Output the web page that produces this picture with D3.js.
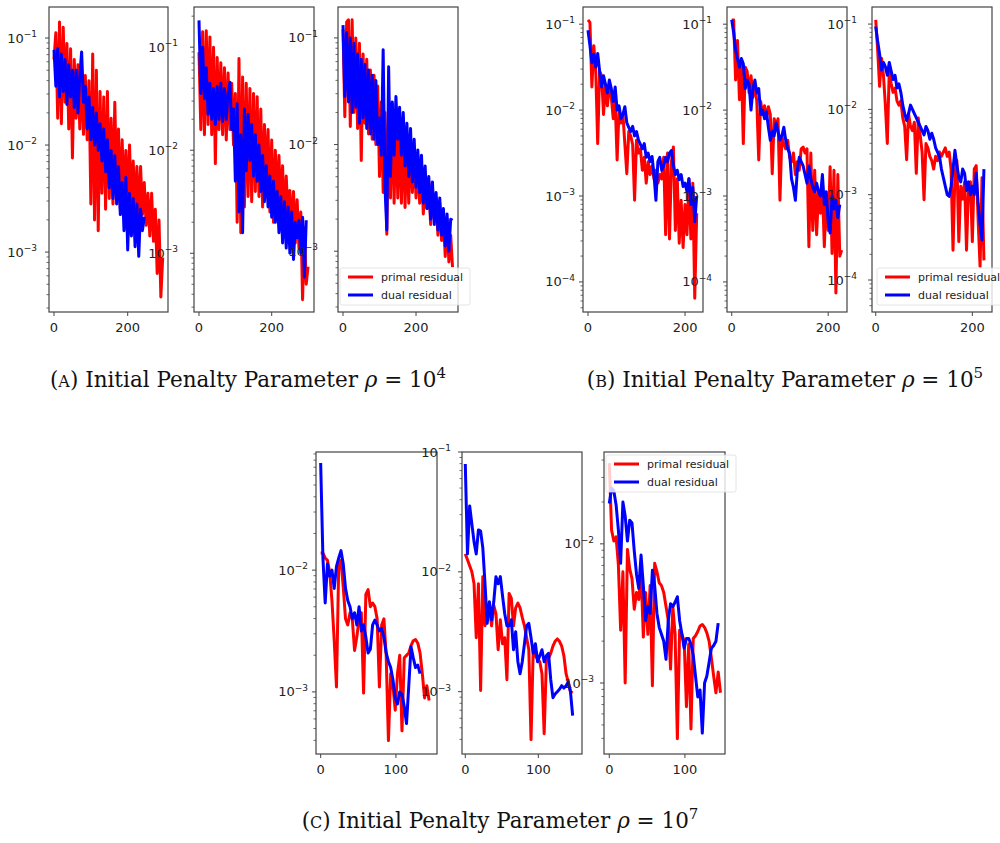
<!DOCTYPE html>
<html>
<head>
<meta charset="utf-8">
<script src="https://cdn.jsdelivr.net/npm/d3@7"></script>
<style>
  body { margin: 0; background: #fff; }
  svg { display: block; }
</style>
</head>
<body>
<svg id="chart" width="1000" height="843"></svg>
<script>
// residuals, stored as log10 values; x = index * step
const stepA = 5, stepB = 4, stepC = 3;

const a1Primal = [-1.20,-0.95,-1.75,-0.85,-1.80,-0.90,-1.60,-1.05,-1.85,-1.10,-2.12,-1.20,-1.75,-1.25,-1.85,-1.30,-1.90,-1.35,-1.95,-1.40,
  -2.55,-1.15,-2.70,-1.30,-2.80,-1.50,-2.45,-1.55,-2.60,-1.50,-2.50,-1.75,-2.55,-1.60,-2.40,-1.85,-2.60,-1.95,-2.55,-2.05,
  -2.55,-2.00,-2.60,-2.15,-2.65,-2.20,-2.70,-2.20,-2.65,-2.35,-2.75,-2.45,-2.85,-2.45,-2.90,-2.60,-3.20,-2.70,-3.42,-3.05];
const a1Dual = [-1.11,-1.45,-1.10,-1.55,-1.15,-1.50,-1.20,-1.62,-1.25,-1.55,-1.30,-1.65,-1.30,-1.70,-1.35,-1.13,-1.60,-1.45,-1.85,-1.55,
  -1.95,-1.65,-2.00,-1.70,-2.05,-1.80,-2.15,-1.85,-2.25,-1.95,-2.40,-2.05,-2.50,-2.10,-2.55,-2.20,-2.65,-2.35,-2.80,-2.30,
  -2.98,-2.45,-2.85,-2.50,-2.95,-2.55,-3.04,-2.60,-2.80,-2.67];

const a2Primal = [-1.05,-1.80,-0.85,-1.85,-0.84,-1.75,-0.90,-1.85,-1.00,-2.13,-1.10,-1.80,-1.15,-1.85,-1.20,-1.90,-1.25,-1.80,-1.35,-1.95,
  -1.45,-2.70,-1.11,-2.80,-1.29,-2.55,-1.35,-2.45,-1.40,-2.50,-1.45,-2.40,-1.48,-2.45,-1.60,-2.55,-1.75,-2.35,-1.80,-2.60,
  -1.90,-2.70,-2.00,-2.55,-2.05,-2.60,-2.15,-2.75,-2.25,-2.65,-2.39,-2.80,-2.40,-2.90,-2.48,-2.95,-2.60,-3.45,-2.75,-3.30,-3.13];
const a2Dual = [-0.74,-1.45,-1.00,-1.50,-1.20,-1.65,-1.35,-1.70,-1.40,-1.75,-1.38,-1.70,-1.35,-1.72,-1.40,-1.70,-1.45,-1.34,-1.80,-1.60,
  -2.30,-1.55,-2.60,-1.85,-2.80,-1.60,-2.20,-1.65,-2.10,-1.75,-2.25,-1.85,-2.30,-1.95,-2.40,-2.05,-2.50,-2.15,-2.55,-2.25,
  -2.65,-2.30,-2.70,-2.40,-2.80,-2.45,-2.90,-2.50,-2.95,-2.55,-3.00,-2.60,-3.06,-2.70,-2.85,-2.68,-3.00,-2.65,-3.23,-2.68];

const a3Primal = [-0.92,-1.74,-0.85,-0.83,-1.83,-0.83,-1.70,-1.00,-1.85,-1.05,-2.15,-1.15,-1.80,-1.20,-1.90,-1.30,-1.95,-1.35,-2.00,-1.45,
  -2.30,-1.60,-2.45,-1.70,-2.84,-1.65,-2.50,-1.62,-2.55,-1.70,-2.50,-1.80,-2.55,-1.75,-2.59,-1.90,-2.55,-1.95,-2.45,-2.05,
  -2.50,-2.10,-2.55,-2.20,-2.65,-2.30,-2.60,-2.35,-2.75,-2.40,-2.70,-2.50,-2.85,-2.55,-2.90,-2.65,-3.05,-2.70,-3.10,-2.85,-3.15];
const a3Dual = [-0.88,-1.55,-0.95,-1.60,-1.00,-1.70,-1.05,-1.65,-1.15,-1.80,-1.20,-1.75,-1.25,-1.85,-1.30,-1.90,-1.35,-1.95,-1.40,-2.00,
  -1.75,-2.10,-1.11,-2.40,-2.80,-1.27,-2.30,-1.60,-2.10,-1.55,-1.95,-1.65,-2.10,-1.70,-2.20,-1.80,-2.30,-1.85,-2.35,-1.95,
  -2.40,-2.05,-2.45,-2.10,-2.55,-2.20,-2.60,-2.30,-2.70,-2.35,-2.75,-2.45,-2.80,-2.50,-2.85,-2.60,-2.95,-2.65,-3.00,-2.70,-2.71];

const b1Primal = [-0.95,-0.98,-1.73,-1.25,-1.55,-2.39,-1.55,-1.60,-2.05,-1.70,-1.95,-1.72,-1.85,-2.10,-1.90,-2.58,-2.00,-2.15,-2.05,-2.40,
  -2.74,-2.25,-2.30,-2.40,-3.05,-2.35,-2.50,-2.45,-2.70,-2.55,-2.85,-2.60,-2.75,-2.65,-2.80,-2.70,-2.85,-2.75,-2.80,-2.55,
  -3.45,-2.50,-3.50,-2.60,-2.43,-3.40,-2.80,-3.55,-3.05,-3.60,-3.10,-3.45,-2.80,-3.50,-2.85,-4.19,-3.20];
const b1Dual = [-1.07,-1.25,-1.45,-1.35,-1.50,-1.34,-1.55,-1.73,-1.60,-1.70,-1.80,-1.65,-1.75,-1.90,-1.73,-2.00,-1.95,-2.10,-2.05,-1.96,
  -2.15,-2.20,-2.25,-2.19,-2.30,-2.25,-2.35,-2.40,-2.45,-2.39,-2.55,-2.50,-2.60,-2.54,-2.75,-3.05,-2.60,-2.55,-2.70,-2.65,
  -2.55,-2.60,-2.50,-2.47,-2.65,-2.75,-2.70,-2.81,-2.75,-2.89,-2.85,-2.95,-2.80,-3.10,-2.90,-3.30,-3.00];

const b2Primal = [-0.95,-0.95,-1.65,-1.19,-1.88,-1.45,-2.39,-1.50,-1.55,-1.80,-1.60,-1.85,-1.70,-1.90,-2.58,-1.90,-2.05,-1.95,-2.10,-1.96,
  -2.05,-2.74,-2.10,-2.20,-2.10,-3.05,-2.30,-2.40,-2.45,-2.35,-2.55,-2.60,-2.50,-2.75,-2.60,-2.70,-2.45,-2.43,-2.50,-2.45,
  -3.59,-2.50,-3.40,-2.70,-3.45,-2.95,-3.20,-2.90,-3.59,-3.00,-3.40,-2.66,-3.67,-2.70,-4.13,-2.75,-3.70,-3.63];
const b2Dual = [-0.95,-1.10,-1.30,-1.40,-1.50,-1.40,-1.46,-1.75,-1.65,-1.70,-2.00,-1.75,-1.65,-1.80,-1.75,-2.05,-2.00,-2.10,-2.02,-2.20,
  -2.35,-2.25,-2.30,-2.15,-2.25,-2.35,-2.30,-2.20,-2.35,-2.45,-2.50,-2.80,-2.90,-3.05,-2.70,-2.55,-2.60,-2.65,-2.75,-2.85,
  -2.65,-2.80,-2.90,-2.95,-2.85,-2.95,-3.00,-2.75,-3.10,-2.95,-3.30,-3.43,-3.00,-3.15,-3.05,-3.25,-3.10];

const b3Primal = [-0.95,-1.30,-1.73,-1.40,-1.60,-1.95,-2.40,-1.55,-1.70,-1.80,-1.75,-1.90,-1.95,-1.90,-2.10,-2.20,-2.59,-2.05,-2.20,-2.25,
  -2.15,-2.75,-2.10,-2.30,-2.50,-3.06,-2.40,-2.45,-2.55,-2.60,-2.70,-2.55,-2.60,-2.50,-2.55,-2.50,-2.45,-2.55,-2.50,-2.70,
  -3.65,-2.75,-2.60,-3.55,-2.90,-3.05,-2.85,-3.65,-2.90,-2.85,-3.55,-2.70,-2.66,-3.30,-3.84,-2.80,-3.77];
const b3Dual = [-1.03,-1.20,-1.35,-1.54,-1.45,-1.50,-1.60,-1.45,-1.55,-1.65,-1.60,-1.75,-1.70,-1.80,-1.95,-2.05,-2.13,-2.05,-1.95,-2.00,
  -2.05,-2.10,-2.15,-2.20,-2.25,-2.30,-2.20,-2.25,-2.35,-2.28,-2.35,-2.45,-2.50,-2.55,-2.70,-2.80,-2.90,-3.00,-3.02,-2.90,
  -2.70,-2.48,-2.65,-2.80,-2.85,-2.70,-2.75,-2.95,-2.85,-3.00,-2.90,-3.00,-2.75,-3.10,-3.35,-3.53,-2.70];

const c1Primal = [-1.86,-1.86,-1.90,-1.92,-2.02,-2.25,-2.58,-2.96,-1.95,-1.92,-2.14,-2.40,-2.45,-2.35,-2.40,-2.66,-2.55,-2.40,-2.35,-3.01,
  -2.20,-2.16,-2.30,-2.27,-2.30,-2.40,-2.96,-2.45,-2.40,-2.70,-3.40,-2.85,-2.95,-3.15,-2.85,-2.70,-3.32,-2.72,-2.70,-2.68,
  -2.62,-2.58,-2.57,-2.60,-2.68,-2.85,-3.05,-2.95,-3.07];
const c1Dual = [-1.12,-1.90,-2.27,-1.95,-2.05,-2.00,-2.15,-1.97,-1.90,-1.84,-1.95,-2.15,-2.25,-2.30,-2.40,-2.35,-2.45,-2.30,-2.50,-2.45,
  -2.55,-2.68,-2.65,-2.45,-2.41,-2.45,-2.50,-2.48,-2.55,-2.68,-2.75,-2.80,-2.90,-3.05,-3.10,-3.00,-3.02,-3.12,-3.26,-2.95,
  -2.63,-2.72,-2.80,-2.78,-2.85];

const c2Primal = [-1.85,-1.90,-1.95,-2.00,-2.10,-2.55,-2.10,-2.99,-2.04,-2.45,-2.35,-2.30,-2.45,-2.28,-2.35,-2.65,-2.40,-2.60,-2.55,-2.90,
  -2.18,-2.22,-2.45,-2.30,-2.26,-2.30,-2.38,-2.45,-2.55,-2.65,-3.40,-2.65,-2.70,-2.73,-2.75,-2.85,-3.35,-2.75,-2.72,-2.68,
  -2.62,-2.58,-2.56,-2.58,-2.62,-2.70,-2.85,-2.92,-3.00,-3.01];
const c2Dual = [-1.10,-1.85,-1.45,-1.60,-1.75,-1.85,-1.65,-1.66,-1.80,-2.10,-2.43,-2.25,-2.40,-2.25,-2.04,-2.10,-2.04,-2.20,-2.35,-2.45,
  -2.45,-2.40,-2.65,-2.50,-2.75,-2.85,-2.75,-2.60,-2.45,-2.43,-2.55,-2.68,-2.60,-2.75,-2.70,-2.65,-2.75,-2.70,-2.68,-2.90,
  -3.05,-3.02,-3.00,-2.98,-2.95,-2.97,-2.95,-2.92,-3.00,-3.20];

const c3Primal = [-1.42,-1.90,-1.98,-1.95,-2.15,-2.62,-2.20,-3.00,-2.04,-2.18,-2.25,-2.47,-2.35,-2.40,-2.20,-2.67,-2.35,-2.65,-2.30,-3.02,
  -2.14,-2.20,-2.28,-2.30,-2.35,-2.45,-2.55,-2.90,-2.45,-2.65,-3.40,-2.62,-2.65,-2.70,-3.17,-2.72,-3.33,-2.68,-2.66,-2.63,
  -2.59,-2.58,-2.60,-2.64,-2.70,-2.82,-2.95,-3.07,-2.92,-3.07];
const c3Dual = [-1.71,-1.60,-1.62,-1.72,-1.90,-2.14,-1.70,-1.80,-1.98,-1.83,-1.85,-2.05,-2.22,-2.32,-2.08,-2.30,-2.55,-2.45,-2.50,-2.19,
  -2.30,-2.50,-2.60,-2.65,-2.70,-2.83,-2.55,-2.43,-2.45,-2.42,-2.38,-2.55,-2.65,-2.75,-2.68,-2.68,-2.72,-2.80,-2.95,-3.10,
  -3.05,-3.36,-3.00,-2.95,-2.85,-2.75,-2.73,-2.70,-2.57];

const captionLetters = ["A", "B", "C"];
const rhoExponents = ["4", "5", "7"];
const seriesNames = ["primal residual", "dual residual"];
const xTicksAB = [0, 200];
const xTicksC = [0, 100];

// layout of each sub-axes (pixel box, axis limits, label gap)
const panels = [
  { box: [49, 168, 7, 312], xDom: [-13.6, 309.4], yDom: [-0.71, -3.56], xTicks: xTicksAB, gap: 12, step: stepA, primal: a1Primal, dual: a1Dual },
  { box: [194, 314, 7, 312], xDom: [-13.75, 316.4], yDom: [-0.61, -3.57], xTicks: xTicksAB, gap: 16, step: stepA, primal: a2Primal, dual: a2Dual },
  { box: [338, 458, 7, 312], xDom: [-13.7, 315], yDom: [-0.71, -3.57], xTicks: xTicksAB, gap: 20, step: stepA, primal: a3Primal, dual: a3Dual, legend: [340, 268] },
  { box: [583, 703, 7, 312], xDom: [-10.3, 237], yDom: [-0.80, -4.35], xTicks: xTicksAB, gap: 8, step: stepB, primal: b1Primal, dual: b1Dual },
  { box: [727, 847, 7, 312], xDom: [-9.8, 239], yDom: [-0.80, -4.35], xTicks: xTicksAB, gap: 15, step: stepB, primal: b2Primal, dual: b2Dual },
  { box: [872, 992, 7, 312], xDom: [-7.7, 240.7], yDom: [-0.80, -4.375], xTicks: xTicksAB, gap: 15, step: stepB, primal: b3Primal, dual: b3Dual, legend: [877, 268] },
  { box: [316, 437, 452, 754], xDom: [-6.2, 154.5], yDom: [-1.03, -3.51], xTicks: xTicksC, gap: 8, step: stepC, primal: c1Primal, dual: c1Dual },
  { box: [462, 582, 452, 754], xDom: [-4.5, 159.8], yDom: [-1.0, -3.52], xTicks: xTicksC, gap: 11, step: stepC, primal: c2Primal, dual: c2Dual },
  { box: [604, 725, 452, 754], xDom: [-7, 153], yDom: [-1.34, -3.51], xTicks: xTicksC, gap: 10, step: stepC, primal: c3Primal, dual: c3Dual, legend: [606, 455] }
];

const colors = ["#ff0000", "#0000ff"];
const svg = d3.select("#chart");

panels.forEach((p, i) => {
  const [x0, x1, y0, y1] = p.box;
  const x = d3.scaleLinear().domain(p.xDom).range([x0, x1]);
  const y = d3.scaleLog().domain([10 ** p.yDom[0], 10 ** p.yDom[1]]).range([y0, y1]);
  const g = svg.append("g");

  // clip to axes area
  g.append("clipPath").attr("id", "clip" + i)
    .append("rect").attr("x", x0).attr("y", y0).attr("width", x1 - x0).attr("height", y1 - y0);

  const line = d3.line()
    .x((d, k) => x(k * p.step))
    .y((d) => y(10 ** d));

  [p.primal, p.dual].forEach((s, k) => {
    g.append("path")
      .attr("d", line(s))
      .attr("clip-path", `url(#clip${i})`)
      .attr("fill", "none")
      .attr("stroke", colors[k])
      .attr("stroke-width", 3)
      .attr("stroke-linejoin", "round");
  });

  // spines
  g.append("rect")
    .attr("x", x0).attr("y", y0).attr("width", x1 - x0).attr("height", y1 - y0)
    .attr("fill", "none").attr("stroke", "#444").attr("stroke-width", 1.2);

  // x axis ticks
  p.xTicks.forEach((t) => {
    g.append("line").attr("x1", x(t)).attr("x2", x(t)).attr("y1", y1).attr("y2", y1 + 4)
      .attr("stroke", "#444");
    g.append("text").attr("x", x(t)).attr("y", y1 + 20)
      .attr("text-anchor", "middle")
      .style("font-family", "DejaVu Sans").style("font-size", "13px").style("fill", "#222")
      .text(t);
  });

  // log y axis: major + minor ticks
  const lo = Math.min(...p.yDom), hi = Math.max(...p.yDom);
  for (let e = Math.floor(lo); e <= Math.ceil(hi); e++) {
    if (e >= lo - 0.01 && e <= hi + 0.01) {
      const yy = y(10 ** e);
      g.append("line").attr("x1", x0 - 4).attr("x2", x0).attr("y1", yy).attr("y2", yy).attr("stroke", "#444");
      const t = g.append("text").attr("x", x0 - p.gap).attr("y", yy + 4.5)
        .attr("text-anchor", "end")
        .style("font-family", "DejaVu Sans").style("font-size", "13px").style("fill", "#222");
      t.append("tspan").text("10");
      t.append("tspan").attr("dy", -5.5).style("font-size", "9px").text("\u2212" + Math.abs(e));
    }
    for (let m = 2; m <= 9; m++) {
      const v = Math.log10(m) + e;
      if (v > lo && v < hi) {
        const yy = y(10 ** v);
        g.append("line").attr("x1", x0 - 2.5).attr("x2", x0).attr("y1", yy).attr("y2", yy)
          .attr("stroke", "#444").attr("stroke-width", 0.8);
      }
    }
  }

  // legend
  if (p.legend) {
    const [lx, ly] = p.legend;
    const lg = g.append("g");
    lg.append("rect").attr("x", lx).attr("y", ly).attr("width", 130).attr("height", 37).attr("rx", 2)
      .attr("fill", "#fff").attr("fill-opacity", 0.8).attr("stroke", "#ddd").attr("stroke-width", 0.8);
    seriesNames.forEach((name, k) => {
      const yy = ly + 9 + k * 18;
      lg.append("line").attr("x1", lx + 8).attr("x2", lx + 33).attr("y1", yy).attr("y2", yy)
        .attr("stroke", colors[k]).attr("stroke-width", 3);
      lg.append("text").attr("x", lx + 41).attr("y", yy + 4)
        .style("font-family", "DejaVu Sans").style("font-size", "11px").style("fill", "#222")
        .text(name);
    });
  }
});

// captions
const captionPos = [[248, 387], [785, 387], [500, 828]];
captionLetters.forEach((letter, i) => {
  const [cx, cy] = captionPos[i];
  const t = svg.append("text").attr("x", cx).attr("y", cy)
    .attr("text-anchor", "middle")
    .style("font-family", "DejaVu Serif").style("font-size", "21.5px").style("fill", "#111");
  t.append("tspan").text("(");
  t.append("tspan").style("font-size", "16px").text(letter);
  t.append("tspan").text(") Initial Penalty Parameter ");
  t.append("tspan").style("font-style", "italic").text("\u03c1");
  t.append("tspan").text(" = 10");
  t.append("tspan").attr("dy", -9).style("font-size", "15px").text(rhoExponents[i]);
});
</script>
</body>
</html>
